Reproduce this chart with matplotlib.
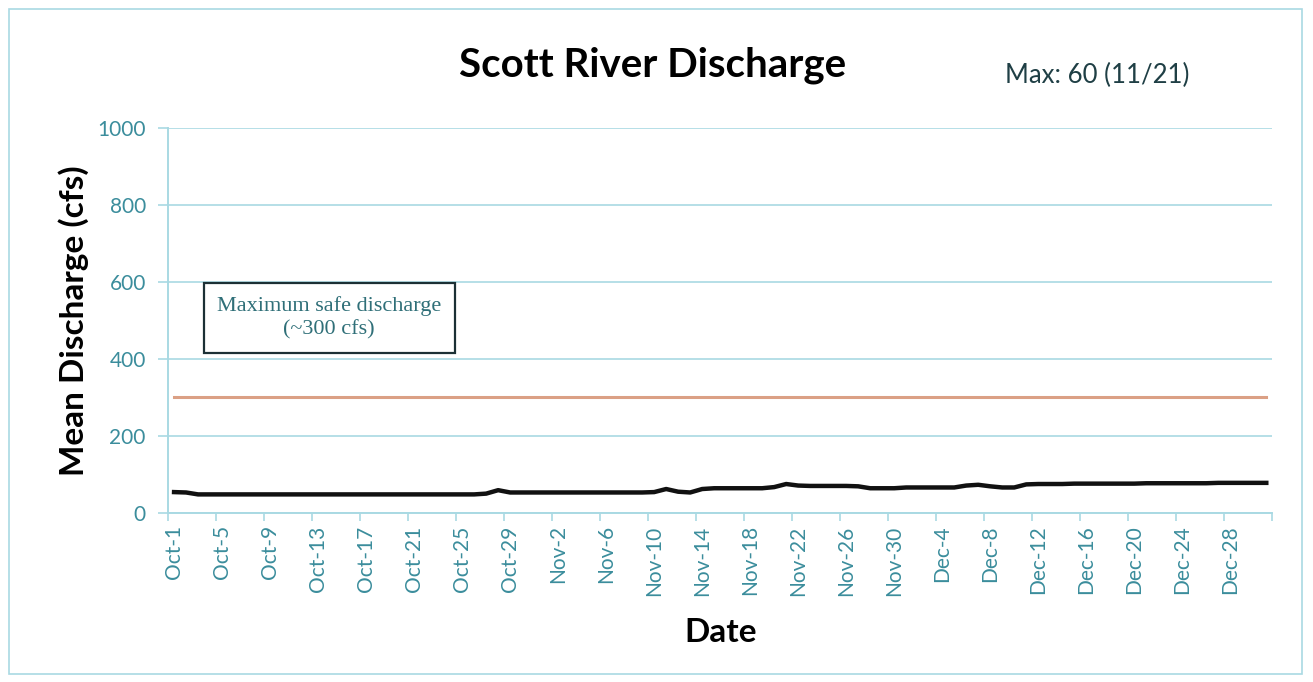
import numpy as np
import matplotlib.pyplot as plt
from matplotlib.ticker import FixedLocator

# daily mean discharge, Oct-1 .. Dec-31
discharge = [54, 53, 48, 48, 48, 48, 48, 48, 48, 48,
             48, 48, 48, 48, 48, 48, 48, 48, 48, 48,
             48, 48, 48, 48, 48, 48, 50, 59, 53, 53,
             53, 53, 53, 53, 53, 53, 53, 53, 53, 53,
             54, 62, 55, 53, 62, 64, 64, 64, 64, 64,
             67, 75, 71, 70, 70, 70, 70, 69, 64, 64,
             64, 66, 66, 66, 66, 66, 71, 73, 69, 66,
             66, 74, 75, 75, 75, 76, 76, 76, 76, 76,
             76, 77, 77, 77, 77, 77, 77, 78, 78, 78,
             78, 78]
safe_level = 300
months = [("Oct", 31), ("Nov", 30), ("Dec", 31)]

dates = [f"{m}-{d}" for m, n in months for d in range(1, n + 1)]
x = np.arange(len(dates))

teal = "#3b8d9c"
grid_c = "#a9d9e3"

plt.rcParams['font.family'] = ['Lato', 'DejaVu Sans']

fig = plt.figure(figsize=(13.13, 6.82), dpi=100)
fig.patch.set_facecolor("white")
ax = fig.add_axes([0.128, 0.248, 0.841, 0.564])

ax.plot(x, [safe_level] * len(x), color="#dba085", lw=2.2, zorder=2)
ax.plot(x, discharge, color="#111111", lw=3.2, zorder=3)

ax.set_xlim(-0.5, len(x) - 0.5)
ax.set_ylim(0, 1000)
ax.set_yticks(range(0, 1001, 200))
ax.yaxis.grid(True, color=grid_c, lw=1.2)
ax.set_axisbelow(True)

lbl_idx = list(range(0, len(x), 4))
ax.set_xticks(lbl_idx)
ax.set_xticklabels([dates[i] for i in lbl_idx], rotation=90)
ax.xaxis.set_minor_locator(FixedLocator([i - 0.5 for i in lbl_idx] + [len(x) - 0.5]))
ax.tick_params(axis="x", which="major", length=0, pad=9, labelsize=15, labelcolor=teal)
ax.tick_params(axis="x", which="minor", length=6, color=grid_c, width=1.2)
ax.tick_params(axis="y", length=7, color=grid_c, width=1.2, labelsize=15, labelcolor=teal, pad=9)

for s in ["top", "right"]:
    ax.spines[s].set_visible(False)
for s in ["left", "bottom"]:
    ax.spines[s].set_color(grid_c)
    ax.spines[s].set_linewidth(1.4)

ax.set_xlabel("Date", fontsize=24, fontweight="bold", labelpad=16)
ax.set_ylabel("Mean Discharge (cfs)", fontsize=24, fontweight="bold", labelpad=6)

fig.text(0.497, 0.905, "Scott River Discharge", fontsize=29, fontweight="bold",
         ha="center", va="center")
fig.text(0.836, 0.89, "Max: 60 (11/21)", fontsize=18.5, ha="center", va="center",
         color="#1f3f45")

ax.text(0.146, 0.507, "Maximum safe discharge\n(~300 cfs)", transform=ax.transAxes,
        ha="center", va="center", fontsize=16, family=["Liberation Serif"],
        color="#2f6f78", linespacing=1.25,
        bbox=dict(boxstyle="square,pad=0.6", fc="white", ec="#1c3035", lw=1.6))

fig.add_artist(plt.Rectangle((0.007, 0.012), 0.985, 0.975, transform=fig.transFigure,
                             fill=False, ec=grid_c, lw=1.2))

fig.savefig("out.png", dpi=100)
